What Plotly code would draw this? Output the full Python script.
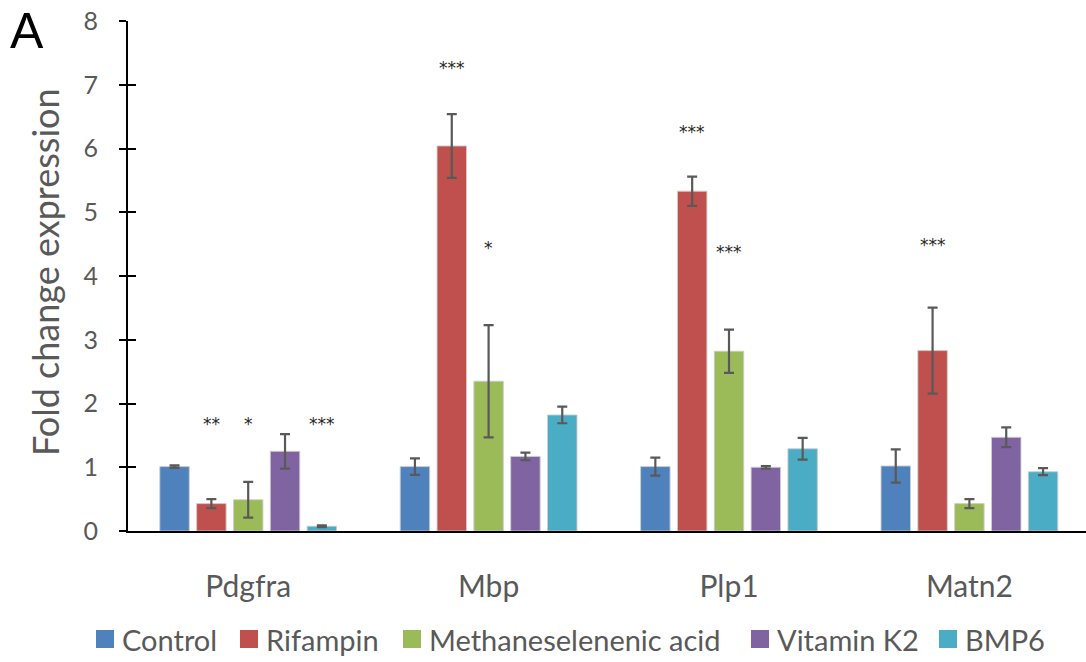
import plotly.graph_objects as go

# ---- data ----
genes = ["Pdgfra", "Mbp", "Plp1", "Matn2"]
treatments = ["Control", "Rifampin", "Methaneselenenic acid", "Vitamin K2", "BMP6"]
colors = ["#4F81BD", "#C0504D", "#9BBB59", "#8064A2", "#4BACC6"]

control = [1.01, 1.01, 1.01, 1.02]
control_err = [0.02, 0.13, 0.14, 0.26]
rifampin = [0.43, 6.04, 5.33, 2.83]
rifampin_err = [0.07, 0.50, 0.23, 0.675]
methaneselenenic = [0.49, 2.35, 2.82, 0.43]
methaneselenenic_err = [0.28, 0.88, 0.34, 0.07]
vitamin_k2 = [1.25, 1.17, 1.00, 1.47]
vitamin_k2_err = [0.27, 0.06, 0.02, 0.155]
bmp6 = [0.075, 1.82, 1.29, 0.93]
bmp6_err = [0.015, 0.13, 0.17, 0.055]

values = [control, rifampin, methaneselenenic, vitamin_k2, bmp6]
errors = [control_err, rifampin_err, methaneselenenic_err, vitamin_k2_err, bmp6_err]

# significance labels: gene, treatment index, label text, label height
sig_gene = ["Pdgfra", "Pdgfra", "Pdgfra", "Mbp", "Mbp", "Plp1", "Plp1", "Matn2"]
sig_treatment = [1, 2, 4, 1, 2, 1, 2, 1]
sig_text = ["**", "*", "***", "***", "*", "***", "***", "***"]
sig_height = [1.72, 1.72, 1.72, 7.31, 4.48, 6.31, 4.43, 4.53]

# ---- style / page geometry ----
FONT = "Lato"
GREY = "#595959"
BARGAP = 0.234
BARGROUPGAP = 0.2
W, H = 1086, 662
ML, MR, MT, MB = 128, 0, 21, 131
PLOT_W = W - ML - MR
PLOT_H = H - MT - MB


def px_x(px):
    """page pixel x -> paper fraction"""
    return (px - ML) / PLOT_W


def px_y(py):
    """page pixel y -> paper fraction"""
    return (H - MB - py) / PLOT_H


fig = go.Figure()

for name, vals, errs, col in zip(treatments, values, errors, colors):
    fig.add_trace(go.Bar(
        x=genes, y=vals, name=name, showlegend=False,
        marker=dict(color=col, line=dict(color="rgba(205,205,205,0.9)", width=1)),
        error_y=dict(type="data", array=errs, visible=True,
                     color=GREY, thickness=2.2, width=5),
    ))

# companion axis that carries the inner half of the y ticks
fig.add_trace(go.Scatter(x=[None], y=[None], yaxis="y2", showlegend=False,
                         hoverinfo="skip"))

# significance stars above the bars
n = len(treatments)
slot = (1 - BARGAP) / n
for g, t, txt, h in zip(sig_gene, sig_treatment, sig_text, sig_height):
    xc = genes.index(g) - (1 - BARGAP) / 2 + (t + 0.5) * slot
    fig.add_annotation(x=xc, y=h, xref="x", yref="y", text=txt,
                       showarrow=False, yshift=-3,
                       font=dict(family="DejaVu Sans", size=17, color="#262626"))

# legend row below the axis: square swatch + label
legend_left = [96, 240, 403, 751, 939]
SW = 18
LEG_Y = 639
for name, col, lx in zip(treatments, colors, legend_left):
    fig.add_shape(type="rect", xref="paper", yref="paper",
                  x0=px_x(lx), x1=px_x(lx + SW),
                  y0=px_y(LEG_Y + SW / 2), y1=px_y(LEG_Y - SW / 2),
                  fillcolor=col, line=dict(width=0))
    fig.add_annotation(x=px_x(lx + SW + 6), y=px_y(LEG_Y), xref="paper", yref="paper",
                       text=name, showarrow=False, xanchor="left", yanchor="middle",
                       font=dict(family=FONT, size=29, color=GREY))

# y-axis title
fig.add_annotation(x=px_x(45), y=px_y(272), xref="paper", yref="paper",
                   text="Fold change expression", textangle=-90, showarrow=False,
                   xanchor="center", yanchor="middle",
                   font=dict(family=FONT, size=36, color=GREY))

# panel letter
fig.add_annotation(x=px_x(8), y=px_y(1), xref="paper", yref="paper", text="A",
                   showarrow=False, xanchor="left", yanchor="top",
                   font=dict(family="Liberation Sans", size=50, color="black"))

fig.update_layout(
    width=W, height=H,
    margin=dict(l=ML, r=MR, t=MT, b=MB, pad=0),
    paper_bgcolor="white", plot_bgcolor="white",
    barmode="group", bargap=BARGAP, bargroupgap=BARGROUPGAP,
    font=dict(family=FONT, color=GREY),
    showlegend=False,
    xaxis=dict(
        type="category", range=[-0.5, 3.485],
        showline=True, linecolor="black", linewidth=2,
        ticks="", showgrid=False, zeroline=False,
        tickfont=dict(family=FONT, size=30, color=GREY),
        ticklabelstandoff=28,
    ),
    yaxis=dict(
        range=[0, 8], dtick=1, tick0=0,
        showline=True, linecolor="black", linewidth=1.8,
        ticks="outside", ticklen=7, tickwidth=1.8, tickcolor="black",
        showgrid=False, zeroline=False,
        tickfont=dict(family=FONT, size=25, color=GREY),
        ticklabelstandoff=16,
    ),
    yaxis2=dict(
        range=[0, 8], dtick=1, tick0=0, overlaying="y", side="left",
        showline=False, ticks="inside", ticklen=8, tickwidth=1.8,
        tickcolor="black", showticklabels=False, showgrid=False,
        zeroline=False,
    ),
)

fig.write_html("out.html")
